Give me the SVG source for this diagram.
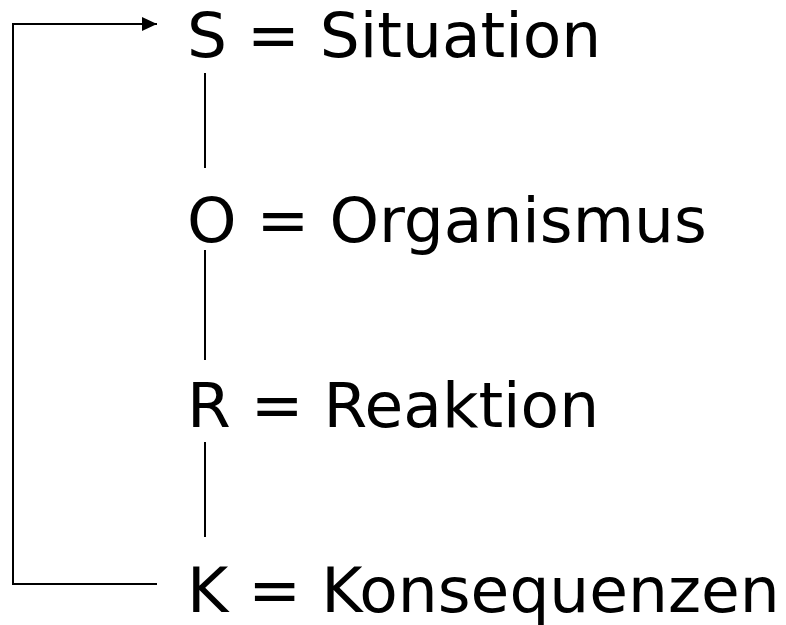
<svg xmlns="http://www.w3.org/2000/svg" width="786" height="625" viewBox="0 0 786 625">
<style>
text{font-family:"DejaVu Sans",sans-serif;font-size:63px;fill:#000}
.ln{stroke:#000;stroke-width:2;fill:none}
</style>
<defs>
<marker id="ah" markerWidth="16" markerHeight="16" refX="15" refY="7" orient="auto" markerUnits="userSpaceOnUse">
<path d="M0,0 L15,7 L0,14 Z" fill="#000"/>
</marker>
</defs>
<rect width="786" height="625" fill="#fff"/>
<g id="connectors">
<path class="ln" d="M157,584 H13 V24 H157" marker-end="url(#ah)"/>
<line class="ln" x1="205" y1="73" x2="205" y2="168"/>
<line class="ln" x1="205" y1="250" x2="205" y2="360"/>
<line class="ln" x1="205" y1="442" x2="205" y2="537"/>
</g>
<g id="S"><text x="187" y="57">S = Situation</text></g>
<g id="O"><text x="187" y="242">O = Organismus</text></g>
<g id="R"><text x="187" y="427">R = Reaktion</text></g>
<g id="K"><text x="187" y="612">K = Konsequenzen</text></g>
</svg>
